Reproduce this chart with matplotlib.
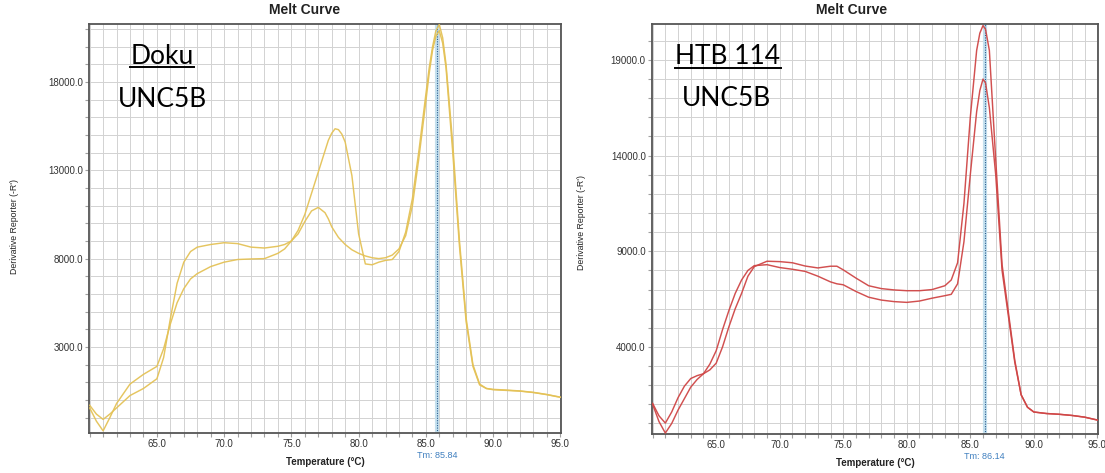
"""
Melt curve comparison: Doku vs HTB 114 (UNC5B)
"""
import matplotlib
matplotlib.use("Agg")
import matplotlib.pyplot as plt
import matplotlib.font_manager as fm
from matplotlib.lines import Line2D
from matplotlib.ticker import FixedLocator, MultipleLocator

W, H = 1105, 473

# ── Data ────────────────────────────────────────────────────────
X_MAJOR = [65, 70, 75, 80, 85, 90, 95]

# Doku panel
TEMP_DOKU = [60, 60.5, 61, 61.5, 62, 63, 64, 65, 65.5, 66, 66.5, 67, 67.5, 68,
             69, 70, 71, 72, 73, 74, 74.5, 75, 75.5, 76, 76.5, 77, 77.5, 77.75,
             78, 78.25, 78.5, 78.75, 79, 79.5, 80, 80.5, 81, 81.5, 82, 82.5, 83,
             83.5, 84, 84.5, 85, 85.25, 85.5, 85.75, 86, 86.25, 86.5, 87, 87.5,
             88, 88.5, 89, 89.5, 90, 91, 92, 93, 94, 95]
DOKU_A = [-450, -1200, -1750, -1000, -200, 900, 1450, 1900, 2900, 4300, 5500,
          6300, 6850, 7150, 7550, 7800, 7950, 7980, 8000, 8300, 8550, 9000,
          9600, 10500, 11700, 12900, 14100, 14700, 15100, 15350, 15300, 15050,
          14600, 12700, 9400, 7700, 7650, 7800, 7900, 7950, 8400, 9500, 11400,
          14200, 17300, 18800, 20000, 20900, 21250, 20500, 19000, 14500, 9000,
          4600, 2000, 900, 650, 580, 540, 500, 420, 300, 150]
DOKU_B = [-300, -800, -1100, -800, -450, 250, 650, 1200, 2400, 4600, 6600,
          7800, 8400, 8650, 8800, 8900, 8850, 8650, 8600, 8700, 8800, 9000,
          9400, 10100, 10700, 10900, 10600, 10250, 9800, 9500, 9200, 9000, 8800,
          8500, 8300, 8150, 8050, 8000, 8050, 8200, 8550, 9300, 11000, 13800,
          16900, 18500, 19800, 20600, 20900, 20200, 18800, 14000, 8700, 4400,
          1900, 850, 650, 600, 560, 510, 430, 310, 160]
TM_DOKU = 85.84
DOKU_YTICKS = [3000, 8000, 13000, 18000]
DOKU_YLIM = (-1870, 21280)

# HTB 114 panel
TEMP_HTB = [60, 60.5, 61, 61.5, 62, 62.5, 63, 63.5, 64, 64.5, 65, 65.5, 66,
            66.5, 67, 67.5, 68, 69, 70, 71, 72, 73, 74, 74.5, 75, 76, 77, 78,
            79, 80, 81, 82, 83, 83.5, 84, 84.5, 85, 85.5, 85.75, 86, 86.2,
            86.5, 87, 87.5, 88, 88.5, 89, 89.5, 90, 91, 92, 93, 94, 95]
HTB_A = [1050, 400, 20, 600, 1350, 1950, 2350, 2500, 2600, 2800, 3150, 4000,
         5050, 6000, 6800, 7700, 8200, 8480, 8460, 8400, 8230, 8130, 8220,
         8220, 8030, 7600, 7200, 7050, 6980, 6940, 6940, 7000, 7200, 7500,
         8400, 11500, 16000, 19500, 20400, 20800, 20600, 19500, 13800, 8300,
         5800, 3300, 1500, 850, 600, 520, 480, 420, 330, 180]
HTB_B = [1000, 100, -500, 0, 700, 1300, 1900, 2300, 2600, 3100, 3800, 4900,
         5900, 6800, 7500, 8000, 8250, 8300, 8150, 8060, 7950, 7700, 7400,
         7300, 7250, 6900, 6600, 6450, 6370, 6330, 6400, 6550, 6680, 6750,
         7300, 9500, 13000, 16300, 17400, 18000, 17800, 16500, 13000, 8000,
         5600, 3200, 1500, 850, 600, 520, 480, 420, 330, 180]
TM_HTB = 86.14
HTB_YTICKS = [4000, 9000, 14000, 19000]
HTB_YLIM = (-550, 20880)

# ── Fonts ───────────────────────────────────────────────────────
installed = {f.name for f in fm.fontManager.ttflist}
NARROW = "Liberation Sans Narrow" if "Liberation Sans Narrow" in installed else "Liberation Sans"
NARROW_SIZE = 7 if NARROW == "Liberation Sans Narrow" else 6.3
plt.rcParams["font.family"] = ["Liberation Sans", "DejaVu Sans"]

fig = plt.figure(figsize=(W / 100, H / 100), dpi=100)
fig.patch.set_facecolor("white")


def px_axes(left, top, right, bottom):
    return fig.add_axes([left / W, 1 - bottom / H, (right - left) / W, (bottom - top) / H])


def draw_panel(ax, temps, curves, color, ylim, yticks, tm):
    for c in curves:
        ax.plot(temps, c, color=color, lw=1.05, alpha=0.95, zorder=3,
                solid_joinstyle="round")
    ax.axvline(tm, color="#c4e0ee", lw=3.0, zorder=2)
    ax.axvline(tm, color="#2a5d8f", lw=0.8, ls=(0, (1, 1.2)), zorder=2.5)
    ax.set_xlim(59.95, 95.05)
    ax.set_ylim(*ylim)
    ax.xaxis.set_major_locator(FixedLocator(X_MAJOR))
    ax.xaxis.set_minor_locator(MultipleLocator(1))
    ax.yaxis.set_major_locator(FixedLocator(yticks))
    ax.yaxis.set_minor_locator(MultipleLocator(1000))
    ax.set_xticklabels([f"{t:.1f}" for t in X_MAJOR])
    ax.set_yticklabels([f"{t:.1f}" for t in yticks])
    ax.grid(which="both", color="#d2d2d2", lw=0.7)
    ax.set_axisbelow(True)
    ax.tick_params(which="both", direction="out", length=3, width=0.8,
                   color="#a0a0a0", labelsize=7, labelcolor="#333333", pad=1.5)
    for s in ax.spines.values():
        s.set_color("#555555")
        s.set_linewidth(1.3)
    ax.annotate(f"Tm: {tm:.2f}", xy=(tm, 0), xycoords=("data", "axes fraction"),
                xytext=(0, -16), textcoords="offset points", ha="center",
                va="center", fontsize=6.5, color="#3f7fbf")
    ax.text(0.5, -0.07, "Temperature (°C)", transform=ax.transAxes,
            ha="center", va="center", fontsize=7, fontweight="bold",
            color="#222222")


# ── Panels ──────────────────────────────────────────────────────
ax1 = px_axes(89, 24, 561, 433)
draw_panel(ax1, TEMP_DOKU, [DOKU_A, DOKU_B], "#e4c257", DOKU_YLIM, DOKU_YTICKS, TM_DOKU)

ax2 = px_axes(652, 24, 1098, 434)
draw_panel(ax2, TEMP_HTB, [HTB_A, HTB_B], "#cf4646", HTB_YLIM, HTB_YTICKS, TM_HTB)

for x, y in [(305, 10), (852, 10)]:
    fig.text(x / W, 1 - y / H, "Melt Curve", ha="center", va="center",
             fontsize=10, fontweight="bold", color="#222222")

for x, y in [(15, 227), (582, 223)]:
    fig.text(x / W, 1 - y / H, "Derivative Reporter (-R')", rotation=90,
             ha="center", va="center", fontsize=NARROW_SIZE,
             family=[NARROW, "DejaVu Sans"], color="#222222")

# sample labels: underlined name on top, gene below
labels = []
for x, y, name in [(162, 56, "Doku"), (728, 57, "HTB 114")]:
    t = fig.text(x / W, 1 - y / H, name, ha="center", va="center",
                 fontsize=19, family=["Lato", "DejaVu Sans"], color="black")
    labels.append(t)
for x, y in [(162, 99), (726, 98)]:
    fig.text(x / W, 1 - y / H, "UNC5B", ha="center", va="center",
             fontsize=19, family=["Lato", "DejaVu Sans"], color="black")

fig.canvas.draw()
renderer = fig.canvas.get_renderer()
for t in labels:
    bb = t.get_window_extent(renderer)
    yline = (bb.y0 + 1) / H
    fig.add_artist(Line2D([bb.x0 / W, bb.x1 / W], [yline, yline],
                          transform=fig.transFigure, color="black", lw=1.4))

fig.savefig("out.png", dpi=100)
plt.close(fig)
